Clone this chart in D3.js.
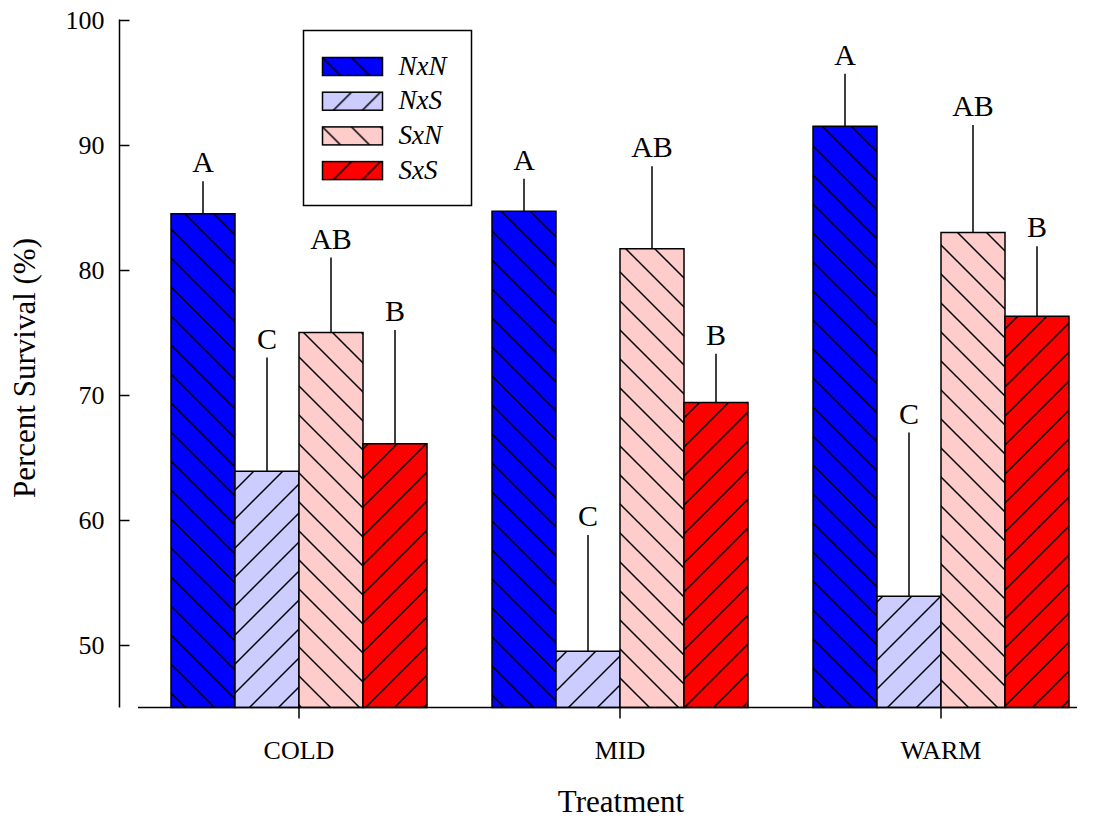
<!DOCTYPE html>
<html>
<head>
<meta charset="utf-8">
<script src="https://cdn.jsdelivr.net/npm/d3@7"></script>
<style>
  html, body { margin: 0; padding: 0; background: #fff; }
  svg { display: block; }
  text { font-family: "Liberation Serif", "Times New Roman", serif; fill: #000; }
</style>
</head>
<body>
<svg id="chart" width="1094" height="820"></svg>
<script>
// ---- data ----
const treatments = ["COLD", "MID", "WARM"];
const crosses = ["NxN", "NxS", "SxN", "SxS"];
const survivalNxN = [84.5, 84.7, 91.5];
const survivalNxS = [63.9, 49.5, 53.9];
const survivalSxN = [75.0, 81.7, 83.0];
const survivalSxS = [66.1, 69.4, 76.3];
const errorNxN = [2.6, 2.6, 4.2];
const errorNxS = [9.1, 9.3, 13.1];
const errorSxN = [6.0, 6.6, 8.6];
const errorSxS = [9.1, 3.9, 5.6];
const lettersNxN = ["A", "A", "A"];
const lettersNxS = ["C", "C", "C"];
const lettersSxN = ["AB", "AB", "AB"];
const lettersSxS = ["B", "B", "B"];
const yTicks = [50, 60, 70, 80, 90, 100];
const yDomain = [45, 100];
const colors = ["#0000FF", "#CCCCFF", "#FFCCCC", "#FF0000"];
const hatchDir = ["back", "fwd", "back", "fwd"];

const values = [survivalNxN, survivalNxS, survivalSxN, survivalSxS];
const errors = [errorNxN, errorNxS, errorSxN, errorSxS];
const letters = [lettersNxN, lettersNxS, lettersSxN, lettersSxS];

const rows = [];
treatments.forEach((t, i) => {
  crosses.forEach((c, j) => {
    rows.push({ treatment: t, cross: c, si: j, value: values[j][i], err: errors[j][i], letter: letters[j][i] });
  });
});

// ---- layout ----
const svg = d3.select("#chart");
const yAxisX = 119.5, xAxisY = 707.5;

const y = d3.scaleLinear().domain(yDomain).range([xAxisY, 20]);
const x0 = d3.scaleBand().domain(treatments).range([138.5, 1101.5])
  .paddingInner(65 / 321).paddingOuter(65 / 642);
const x1 = d3.scaleBand().domain(crosses).range([0, x0.bandwidth()]).padding(0);

// ---- hatch patterns ----
const defs = svg.append("defs");
const P = 29, h = P / 4;
crosses.forEach((c, j) => {
  const pat = defs.append("pattern")
    .attr("id", "hatch" + j)
    .attr("patternUnits", "userSpaceOnUse")
    .attr("width", P).attr("height", P);
  pat.append("rect").attr("width", P).attr("height", P).attr("fill", colors[j]);
  const d = hatchDir[j] === "back"
    ? `M${-h},${-h}L${P + h},${P + h}M${-h},${P - h}L${h},${P + h}M${P - h},${-h}L${P + h},${h}`
    : `M${-h},${P + h}L${P + h},${-h}M${-h},${h}L${h},${-h}M${P - h},${P + h}L${P + h},${P - h}`;
  pat.append("path").attr("d", d).attr("stroke", "#000").attr("stroke-width", 1.5).attr("fill", "none");
});

// ---- bars ----
const g = svg.append("g");
g.selectAll("rect.bar").data(rows).join("rect")
  .attr("class", "bar")
  .attr("x", d => x0(d.treatment) + x1(d.cross))
  .attr("y", d => y(d.value))
  .attr("width", x1.bandwidth())
  .attr("height", d => xAxisY - y(d.value))
  .attr("fill", d => `url(#hatch${d.si})`)
  .attr("stroke", "#000").attr("stroke-width", 1.5);

// error bars (upper only)
g.selectAll("line.err").data(rows).join("line")
  .attr("class", "err")
  .attr("x1", d => x0(d.treatment) + x1(d.cross) + x1.bandwidth() / 2)
  .attr("x2", d => x0(d.treatment) + x1(d.cross) + x1.bandwidth() / 2)
  .attr("y1", d => y(d.value))
  .attr("y2", d => y(d.value + d.err))
  .attr("stroke", "#000").attr("stroke-width", 1.5);

// letters
g.selectAll("text.letter").data(rows).join("text")
  .attr("class", "letter")
  .attr("x", d => x0(d.treatment) + x1(d.cross) + x1.bandwidth() / 2)
  .attr("y", d => y(d.value + d.err) - 9)
  .attr("text-anchor", "middle")
  .attr("font-size", 30)
  .text(d => d.letter);

// ---- axes ----
const yAxis = d3.axisLeft(y).tickValues(yTicks).tickSize(-10).tickPadding(15).tickSizeOuter(0);
const yg = svg.append("g").attr("transform", `translate(${yAxisX},0)`).call(yAxis);
yg.select(".domain").attr("d", `M0,${y(100) - 0.5}V${xAxisY}`).attr("stroke", "#000").attr("stroke-width", 1.5);
yg.selectAll(".tick line").attr("stroke", "#000").attr("stroke-width", 1.5);
yg.selectAll(".tick text").attr("font-size", 26).attr("font-family", "Liberation Serif").attr("fill", "#000").attr("dy", "0.34em");

const xAxis = d3.axisBottom(x0).tickSize(11).tickPadding(22).tickSizeOuter(0);
const xg = svg.append("g").attr("transform", `translate(0,${xAxisY})`).call(xAxis);
xg.select(".domain").attr("d", "M138,0H1077").attr("stroke", "#000").attr("stroke-width", 1.5);
xg.selectAll(".tick line").attr("stroke", "#000").attr("stroke-width", 1.5);
xg.selectAll(".tick text").attr("font-size", 26).attr("font-family", "Liberation Serif").attr("fill", "#000");

// axis titles
svg.append("text")
  .attr("transform", `translate(35,368) rotate(-90)`)
  .attr("text-anchor", "middle")
  .attr("font-size", 31)
  .text("Percent Survival (%)");
svg.append("text")
  .attr("x", 621).attr("y", 812)
  .attr("text-anchor", "middle")
  .attr("font-size", 31)
  .text("Treatment");

// ---- legend ----
const lg = svg.append("g");
lg.append("rect").attr("x", 303.5).attr("y", 30.5).attr("width", 168).attr("height", 175)
  .attr("fill", "#fff").attr("stroke", "#000").attr("stroke-width", 1.5);
const li = lg.selectAll("g.item").data(crosses).join("g").attr("class", "item")
  .attr("transform", (d, i) => `translate(322.5,${57.5 + i * 34.7})`);
li.append("rect").attr("width", 60).attr("height", 18)
  .attr("fill", (d, i) => `url(#hatch${i})`).attr("stroke", "#000").attr("stroke-width", 1.5);
li.append("text").attr("x", 76).attr("y", 17)
  .attr("font-size", 27).attr("font-style", "italic")
  .text(d => d);
</script>
</body>
</html>
